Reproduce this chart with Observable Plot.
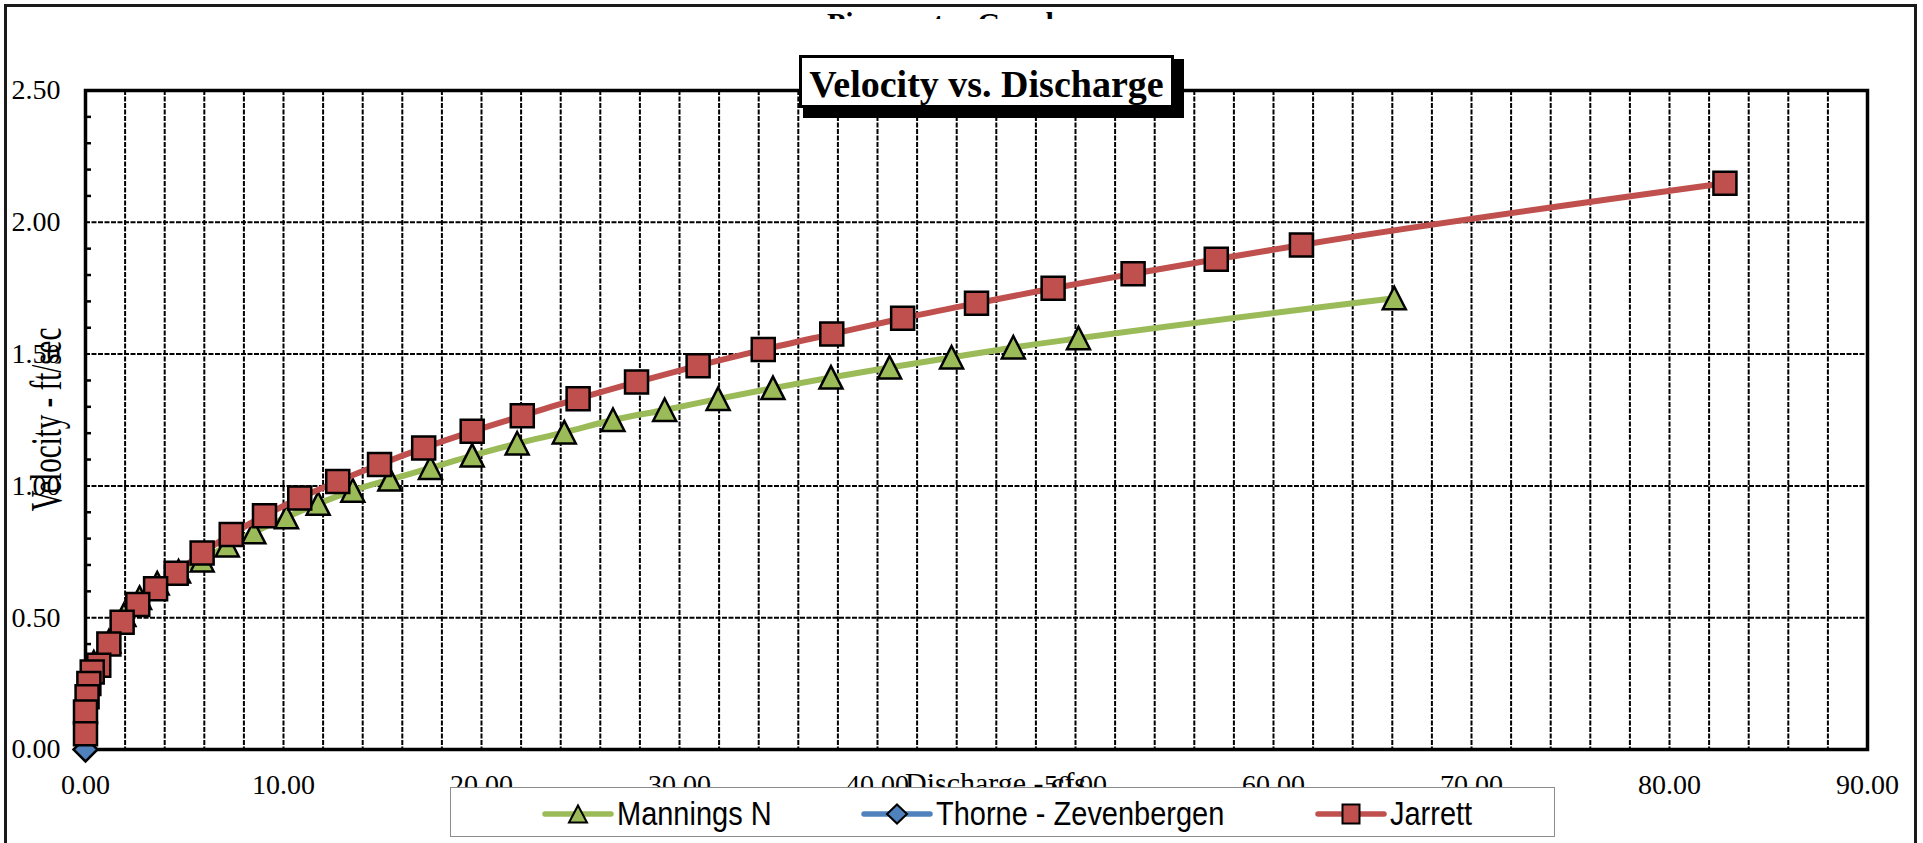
<!DOCTYPE html>
<html><head><meta charset="utf-8">
<script src="https://cdn.jsdelivr.net/npm/d3@7"></script>
<script src="https://cdn.jsdelivr.net/npm/@observablehq/plot@0.6"></script>
<style>
html,body{margin:0;padding:0;background:#fff;}
body{width:1923px;height:843px;overflow:hidden;position:relative;}
.abs{position:absolute;}
.serif{font-family:'Liberation Serif','Times New Roman',serif;color:#000;white-space:nowrap;}
</style></head><body>
<div id="chart" class="abs" style="left:0;top:0"></div>
<div class="abs" style="left:0;top:0;width:1923px;height:19px;overflow:hidden">
  <div id="topTitle" class="abs serif" style="left:827px;top:8px;font-weight:bold;font-size:30px;line-height:30px"></div>
</div>
<div id="title" class="abs serif" style="left:799px;top:55px;width:375px;height:53px;box-sizing:border-box;border:3px solid #000;background:#fff;box-shadow:7px 7px 0 3px #000;font-weight:bold;font-size:38px;line-height:38px;padding-top:7px;text-align:center"></div>
<div id="yTitle" class="abs serif" style="left:-62.7px;top:404.5px;width:220px;height:29px;font-size:29px;line-height:29px;text-align:center;transform:rotate(-90deg) scale(1,1.5)"></div>
<div id="xTitle" class="abs serif" style="left:905px;top:768px;font-size:30px;line-height:30px"></div>
<div id="legend" class="abs" style="left:450px;top:787px;width:1105px;height:50px;box-sizing:border-box;border:1px solid #8c8c8c;background:#fff"></div>
<div class="abs" style="left:4px;top:4px;width:1913px;height:900px;box-sizing:border-box;border:3px solid #1a1a1a"></div>
<script>
// ---- data ----
const chartTitle = "Velocity vs. Discharge";
const topTitleText = "Piezometer Graph";
const xTitleText = "Discharge - cfs";
const yTitleText = "Velocity - ft/sec";

const seriesNames = ["Mannings N", "Thorne - Zevenbergen", "Jarrett"];
const seriesColors = ["#9BBB59", "#4F81BD", "#C0504D"];

const manningsQ = [0.42, 1.18, 1.94, 2.73, 3.62, 4.70, 5.89, 7.16, 8.50, 10.15, 11.75, 13.50, 15.37, 17.42, 19.53, 21.80, 24.18, 26.64, 29.25, 31.95, 34.72, 37.65, 40.61, 43.74, 46.86, 50.15, 66.10];
const manningsV = [0.33, 0.41, 0.51, 0.575, 0.63, 0.675, 0.717, 0.774, 0.824, 0.881, 0.932, 0.982, 1.024, 1.068, 1.115, 1.161, 1.203, 1.250, 1.288, 1.330, 1.371, 1.411, 1.449, 1.487, 1.525, 1.560, 1.712];

const thorneQ = [0];
const thorneV = [0];

const jarrettQ = [0, 0, 0.08, 0.17, 0.34, 0.67, 1.18, 1.85, 2.64, 3.54, 4.58, 5.89, 7.36, 9.04, 10.82, 12.74, 14.85, 17.08, 19.53, 22.06, 24.88, 27.83, 30.94, 34.23, 37.69, 41.27, 45.00, 48.87, 52.91, 57.11, 61.41, 82.80];
const jarrettV = [0.06, 0.142, 0.20, 0.25, 0.294, 0.32, 0.40, 0.483, 0.55, 0.61, 0.669, 0.745, 0.816, 0.887, 0.954, 1.017, 1.081, 1.144, 1.207, 1.266, 1.331, 1.394, 1.456, 1.517, 1.576, 1.636, 1.693, 1.750, 1.805, 1.860, 1.914, 2.148];

const xTicks = [0, 10, 20, 30, 40, 50, 60, 70, 80, 90];
const yTicks = [0, 0.5, 1.0, 1.5, 2.0, 2.5];
const xGrid = [2,4,6,8,10,12,14,16,18,20,22,24,26,28,30,32,34,36,38,40,42,44,46,48,50,52,54,56,58,60,62,64,66,68,70,72,74,76,78,80,82,84,86,88];
const yGrid = [0.5, 1.0, 1.5, 2.0];
const yMinor = [0.1,0.2,0.3,0.4,0.6,0.7,0.8,0.9,1.1,1.2,1.3,1.4,1.6,1.7,1.8,1.9,2.1,2.2,2.3,2.4];

// ---- build ----
const toRows = (qs, vs) => qs.map((q, i) => ({q, v: vs[i]}));
const mannings = toRows(manningsQ, manningsV);
const thorne = toRows(thorneQ, thorneV);
const jarrett = toRows(jarrettQ, jarrettV);

const triSym = {draw(c){c.moveTo(0,-11.5);c.lineTo(11.5,11);c.lineTo(-11.5,11);c.closePath();}};
const sqSym = {draw(c){c.rect(-11.5,-11.5,23,23);}};
const diaSym = {draw(c){c.moveTo(0,-12);c.lineTo(12,0);c.lineTo(0,12);c.lineTo(-12,0);c.closePath();}};

const gridStyle = {stroke: "#000", strokeWidth: 2, strokeDasharray: "5,1.5", strokeOpacity: 1};

const chart = Plot.plot({
  width: 1923, height: 843,
  marginLeft: 85, marginRight: 56, marginTop: 90, marginBottom: 94,
  x: {domain: [0, 90]},
  y: {domain: [0, 2.5]},
  style: {fontFamily: "'Liberation Serif','Times New Roman',serif", fontSize: "28px", color: "#000", background: "transparent", overflow: "visible"},
  marks: [
    Plot.ruleX(xGrid, {x: d => d, ...gridStyle}),
    Plot.ruleY(yGrid, {y: d => d, ...gridStyle}),
    Plot.axisY({ticks: yMinor, tickSize: 6, dx: 6, strokeWidth: 2.5, tickFormat: () => "", label: null}),
    Plot.axisY({ticks: yTicks, tickSize: 0, tickPadding: 25, tickFormat: d3.format(".2f"), label: null}),
    Plot.axisX({ticks: xTicks, tickSize: 0, tickPadding: 25, tickFormat: d3.format(".2f"), label: null}),
    Plot.frame({stroke: "#000", strokeWidth: 3.5}),
    Plot.line(mannings, {x: "q", y: "v", stroke: seriesColors[0], strokeWidth: 6, curve: "monotone-x"}),
    Plot.dot(mannings.slice().reverse(), {x: "q", y: "v", symbol: triSym, fill: seriesColors[0], stroke: "#000", strokeWidth: 2.5}),
    Plot.line(thorne, {x: "q", y: "v", stroke: seriesColors[1], strokeWidth: 6}),
    Plot.dot(thorne, {x: "q", y: "v", symbol: diaSym, fill: seriesColors[1], stroke: "#000", strokeWidth: 2.5}),
    Plot.line(jarrett, {x: "q", y: "v", stroke: seriesColors[2], strokeWidth: 6, curve: "monotone-x"}),
    Plot.dot(jarrett.slice().reverse(), {x: "q", y: "v", symbol: sqSym, fill: seriesColors[2], stroke: "#000", strokeWidth: 2.5})
  ]
});
document.getElementById("chart").appendChild(chart);

document.getElementById("topTitle").textContent = topTitleText;
document.getElementById("title").textContent = chartTitle;
document.getElementById("yTitle").textContent = yTitleText;
document.getElementById("xTitle").textContent = xTitleText;

// ---- legend ----
const legendSyms = [
  "M0,-8.5L9,8.5L-9,8.5Z",
  "M0,-9.5L10,0L0,9.5L-10,0Z",
  "M-8.5,-9.5H8.5V9.5H-8.5Z"
];
const legendX = [94, 413, 867];
const svg = d3.select("#legend").append("svg").attr("width", 1103).attr("height", 48)
  .style("position", "absolute").style("left", 0).style("top", 0);
seriesNames.forEach((name, i) => {
  const g = svg.append("g").attr("transform", `translate(${legendX[i]},0)`);
  g.append("line").attr("x1", 0).attr("x2", 66).attr("y1", 26).attr("y2", 26)
    .attr("stroke", seriesColors[i]).attr("stroke-width", 5.5).attr("stroke-linecap", "round");
  g.append("path").attr("d", legendSyms[i]).attr("transform", "translate(33,26)")
    .attr("fill", seriesColors[i]).attr("stroke", "#000").attr("stroke-width", 2);
  g.append("text").attr("transform", "translate(72,37) scale(1,1.12)").text(name)
    .attr("font-family", "'Liberation Sans', Arial, sans-serif").attr("font-size", 29).attr("fill", "#000");
});
</script>
</body></html>
